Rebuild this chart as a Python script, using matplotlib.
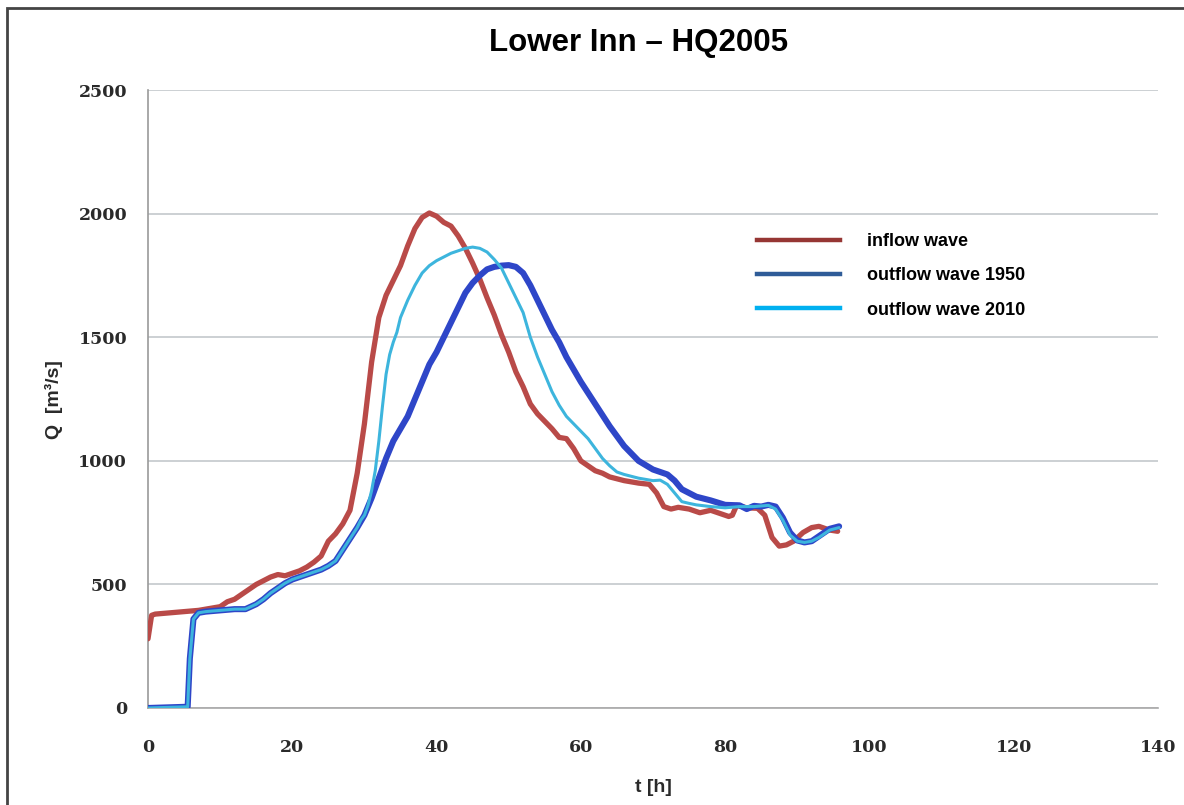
import matplotlib
matplotlib.use("Agg")
import matplotlib.pyplot as plt
from matplotlib.lines import Line2D
from matplotlib.patches import Rectangle

# --- data ---
T_IN = [0, 0.5, 1, 3, 5, 7, 8, 10, 11, 12, 13, 14, 15, 16, 17, 18, 19, 20, 21, 22, 23, 24,
        25, 26, 27, 28, 29, 30, 31, 32, 33, 34, 35, 36, 37, 38, 39, 40, 41, 42, 43, 44, 45,
        46, 47, 48, 49, 50, 51, 52, 53, 54, 55, 56, 57, 58, 59, 60, 61, 62, 63, 64, 66, 68,
        69.5, 70.5, 71.5, 72.5, 73.5, 75, 76.5, 78, 79, 80.5, 81, 81.6, 83, 84.5, 85.5, 86.5,
        87.5, 88.5, 89.5, 90.8, 92, 93, 94.5, 95.6]
Q_IN = [280, 375, 380, 385, 390, 395, 400, 410, 430, 440, 460, 480, 500, 515, 530, 540, 535,
        545, 555, 570, 590, 615, 675, 705, 745, 800, 950, 1150, 1400, 1580, 1670, 1730, 1790,
        1870, 1940, 1985, 2003, 1990, 1965, 1950, 1910, 1860, 1800, 1735, 1660, 1590, 1510,
        1440, 1360, 1300, 1230, 1190, 1160, 1130, 1095, 1090, 1050, 1000, 980, 960, 950, 935,
        920, 910, 905, 870, 815, 805, 812, 805, 790, 800, 790, 775, 780, 820, 810, 808, 780,
        690, 655, 660, 675, 710, 730, 735, 720, 715]

T_1950 = [0, 5.5, 5.8, 6.3, 7, 8, 10, 12, 13.5, 15, 16, 17, 18, 19, 20, 22, 24, 25, 26, 27,
          28, 29, 30, 31, 32, 33, 34, 35, 36, 37, 38, 39, 40, 41, 42, 43, 44, 45, 46, 47, 48,
          49, 50, 51, 52, 53, 54, 55, 56, 57, 58, 60, 62, 64, 66, 68, 70, 72, 73, 74, 76, 78,
          80, 82, 83, 84, 85, 86, 87, 88, 89, 90, 91, 92, 93, 94.5, 95.8]
Q_1950 = [0, 5, 200, 360, 385, 390, 395, 400, 400, 420, 440, 465, 485, 505, 520, 540, 560,
          575, 595, 640, 685, 730, 780, 850, 930, 1010, 1080, 1130, 1180, 1250, 1320, 1390,
          1440, 1500, 1560, 1620, 1680, 1720, 1750, 1775, 1785, 1790, 1792, 1785, 1760, 1710,
          1650, 1590, 1530, 1480, 1420, 1320, 1230, 1140, 1060, 1000, 965, 945, 920, 885, 855,
          840, 822, 820, 805, 818, 815, 822, 815, 770, 710, 678, 670, 675, 695, 725, 735]

T_2010 = [0, 5.5, 5.8, 6.3, 7, 8, 10, 12, 13.5, 15, 16, 17, 18, 19, 20, 22, 24, 25, 26, 27,
          28, 29, 29.5, 30, 30.5, 31, 31.5, 32, 32.5, 33, 33.5, 34, 34.5, 35, 36, 37, 38, 39,
          40, 41, 42, 43, 44, 45, 46, 47, 48, 49, 50, 51, 52, 53, 54, 55, 56, 57, 58, 59, 60,
          61, 62, 63, 64, 65, 66, 68, 70, 71, 72, 73, 74, 75, 76, 78, 80, 82, 84, 86, 87, 88,
          89, 90, 91, 92, 93, 94.5, 95.8]
Q_2010 = [0, 5, 200, 360, 385, 390, 395, 400, 400, 420, 440, 465, 485, 505, 520, 540, 560,
          575, 595, 640, 685, 730, 760, 780, 820, 880, 960, 1080, 1220, 1350, 1430, 1480, 1520,
          1580, 1650, 1710, 1760, 1790, 1810, 1825, 1840, 1850, 1860, 1865, 1860, 1845, 1815,
          1780, 1720, 1660, 1600, 1500, 1420, 1350, 1280, 1225, 1180, 1150, 1120, 1090, 1050,
          1010, 980, 955, 945, 930, 920, 922, 905, 870, 835, 828, 822, 815, 810, 815, 815, 820,
          805, 760, 700, 675, 670, 675, 690, 720, 730]

LABELS = ["inflow wave", "outflow wave 1950", "outflow wave 2010"]
LINE_COLORS = ["#B94A48", "#2E46C8", "#3DB5DD"]
LEGEND_COLORS = ["#963634", "#2F5C98", "#00B0F0"]

# --- figure ---
fig = plt.figure(figsize=(11.84, 8.05), dpi=100)
ax = fig.add_axes([0.125, 0.1205, 0.853, 0.7675])

ax.plot(T_IN, Q_IN, color=LINE_COLORS[0], lw=3.8, solid_capstyle="round", zorder=3)
ax.plot(T_1950, Q_1950, color=LINE_COLORS[1], lw=4.4, solid_capstyle="round", zorder=4)
ax.plot(T_2010, Q_2010, color=LINE_COLORS[2], lw=2.2, solid_capstyle="round", zorder=5)

ax.set_xlim(0, 140)
ax.set_ylim(0, 2500)
ax.set_xticks(range(0, 141, 20))
ax.set_yticks(range(0, 2501, 500))
ax.grid(axis="y", color="#C4C8CC", lw=1.2)
ax.set_axisbelow(True)
for s in ["top", "right"]:
    ax.spines[s].set_visible(False)
ax.spines["left"].set_color("#9A9A9A")
ax.spines["bottom"].set_color("#A8A8A8")
ax.spines["left"].set_linewidth(1.2)
ax.spines["bottom"].set_linewidth(1.2)
ax.tick_params(length=0)
ax.tick_params(axis="x", pad=22)
ax.tick_params(axis="y", pad=15)
for lab in ax.get_xticklabels() + ax.get_yticklabels():
    lab.set_fontfamily("DejaVu Serif")
    lab.set_fontweight("bold")
    lab.set_fontsize(12.5)
    lab.set_color("#2A2A2A")

ax.set_xlabel("t [h]", fontfamily="Liberation Sans", fontweight="bold", fontsize=14,
              color="#2A2A2A", labelpad=17)
ax.set_ylabel("Q  [m³/s]", fontfamily="Liberation Sans", fontweight="bold", fontsize=14,
              color="#2A2A2A", labelpad=11)

fig.text(0.539, 0.946, "Lower Inn \u2013 HQ2005", ha="center", va="center",
         fontfamily="Liberation Sans", fontweight="bold", fontsize=22.5)

handles = [Line2D([], [], color=c, lw=3.2) for c in LEGEND_COLORS]
ax.legend(handles, LABELS, loc="upper left", bbox_to_anchor=(0.594, 0.783),
          frameon=False, handlelength=4.6, handletextpad=1.5, labelspacing=0.95,
          borderpad=0, prop={"family": "Liberation Sans", "weight": "bold", "size": 13})

# outer border of the screenshot
fig.patches.append(Rectangle((7 / 1184, -0.05), 1.1, 0.05 + (805 - 8) / 805,
                             transform=fig.transFigure, fill=False,
                             edgecolor="#444444", lw=2))

fig.savefig("out.png", dpi=100)
